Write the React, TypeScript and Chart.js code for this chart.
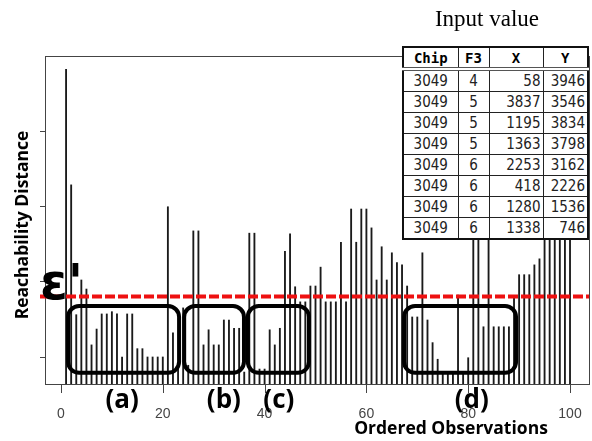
import React, { useEffect, useRef } from "react";
import { Chart, registerables } from "chart.js";
Chart.register(...registerables);

// Reachability distance of the ordered observations 1..100
const reach = [
  4.81, 3.28, 1.56, 2.02, 1.9, 1.16, 1.37, 1.57, 1.57, 1.6,
  1.57, 1.0, 1.57, 1.57, 1.11, 1.11, 1.0, 1.0, 1.0, 1.0,
  2.99, 1.32, 0.93, 1.65, 0.89, 2.67, 2.67, 1.16, 1.36, 1.16,
  1.16, 1.49, 1.49, 1.38, 1.38, 0.8, 2.64, 2.64, 0.84, 0.84,
  1.36, 1.16, 1.38, 2.4, 2.63, 1.93, 1.73, 1.73, 1.94, 1.94,
  2.19, 1.73, 1.73, 1.73, 2.52, 1.73, 2.96, 2.52, 2.96, 2.96,
  2.71, 2.02, 2.46, 2.02, 2.38, 2.25, 2.22, 1.94, 1.53, 1.53,
  2.38, 1.49, 1.19, 0.97, 0.77, 0.77, 0.77, 1.82, 0.77, 0.99,
  3.34, 3.34, 1.4, 3.08, 1.4, 1.4, 1.4, 1.4, 1.79, 2.09,
  2.09, 2.09, 2.22, 2.3, 2.81, 2.88, 2.95, 3.01, 3.08, 3.15,
];
const xTicks = [0, 20, 40, 60, 80, 100];
const yTicks = [1, 2, 3, 4];
const epsilon = 1.8;

const clusterNames = ["(a)", "(b)", "(c)", "(d)"];
const clusterStart = [1.4, 24.2, 36.7, 67.4];
const clusterEnd = [23.2, 35.95, 48.7, 89.4];
const clusterLow = 0.79;
const clusterHigh = 1.675;
const clusterLabelAt = [12, 32, 42.8, 80.7];

const tableHeader = ["Chip", "F3", "X", "Y"];
const tChip = [3049, 3049, 3049, 3049, 3049, 3049, 3049, 3049];
const tF3 = [4, 5, 5, 5, 6, 6, 6, 6];
const tX = [58, 3837, 1195, 1363, 2253, 418, 1280, 1338];
const tY = [3946, 3546, 3834, 3798, 3162, 2226, 1536, 746];

const overlay = {
  id: "overlay",
  afterDatasetsDraw(chart: any) {
    const ctx = chart.ctx;
    const a = chart.chartArea;
    const xs = chart.scales.x;
    const ys = chart.scales.y;
    ctx.save();
    // frame
    ctx.strokeStyle = "#444";
    ctx.lineWidth = 1;
    ctx.strokeRect(Math.round(a.left) + 0.5, Math.round(a.top) + 0.5, Math.round(a.right - a.left), Math.round(a.bottom - a.top));
    // ticks
    ctx.beginPath();
    xTicks.forEach((v) => {
      const px = Math.round(xs.getPixelForValue(v)) + 0.5;
      ctx.moveTo(px, a.bottom);
      ctx.lineTo(px, a.bottom + 9);
    });
    yTicks.forEach((v) => {
      const py = Math.round(ys.getPixelForValue(v)) + 0.5;
      ctx.moveTo(a.left - 5, py);
      ctx.lineTo(a.left, py);
    });
    ctx.stroke();
    ctx.fillStyle = "#444";
    ctx.font = "14px 'Liberation Sans', Arial, sans-serif";
    ctx.textAlign = "center";
    ctx.textBaseline = "middle";
    xTicks.forEach((v) => {
      ctx.fillText(String(v), xs.getPixelForValue(v), a.bottom + 30);
    });
    // cluster boxes
    ctx.strokeStyle = "#000";
    ctx.lineWidth = 4;
    for (let i = 0; i < clusterNames.length; i++) {
      const x0 = xs.getPixelForValue(clusterStart[i]);
      const x1 = xs.getPixelForValue(clusterEnd[i]);
      const y0 = ys.getPixelForValue(clusterHigh);
      const y1 = ys.getPixelForValue(clusterLow);
      const r = 11;
      ctx.beginPath();
      ctx.moveTo(x0 + r, y0);
      ctx.lineTo(x1 - r, y0);
      ctx.arcTo(x1, y0, x1, y0 + r, r);
      ctx.lineTo(x1, y1 - r);
      ctx.arcTo(x1, y1, x1 - r, y1, r);
      ctx.lineTo(x0 + r, y1);
      ctx.arcTo(x0, y1, x0, y1 - r, r);
      ctx.lineTo(x0, y0 + r);
      ctx.arcTo(x0, y0, x0 + r, y0, r);
      ctx.closePath();
      ctx.stroke();
    }
    // epsilon line
    const ey = ys.getPixelForValue(epsilon);
    ctx.strokeStyle = "#ee1111";
    ctx.lineWidth = 4;
    ctx.setLineDash([10, 3]);
    ctx.beginPath();
    ctx.moveTo(a.left - 5, ey);
    ctx.lineTo(a.right, ey);
    ctx.stroke();
    ctx.setLineDash([]);
    // epsilon label
    ctx.fillStyle = "#000";
    ctx.font = "bold 50px 'DejaVu Sans', sans-serif";
    ctx.textAlign = "left";
    ctx.textBaseline = "alphabetic";
    ctx.fillText("ε'", a.left - 5, ey + 2);
    // cluster names
    ctx.font = "bold 26px 'Open Sans', sans-serif";
    ctx.textAlign = "center";
    ctx.textBaseline = "middle";
    for (let i = 0; i < clusterNames.length; i++) {
      ctx.fillText(clusterNames[i], xs.getPixelForValue(clusterLabelAt[i]), a.bottom + 17);
    }
    // axis titles
    ctx.font = "bold 17.5px 'Open Sans', sans-serif";
    ctx.fillText("Ordered Observations", 451, 429);
    ctx.translate(23, 225);
    ctx.rotate(-Math.PI / 2);
    ctx.fillText("Reachability Distance", 0, 0);
    ctx.restore();
  },
};

export default function App() {
  const ref = useRef<HTMLCanvasElement | null>(null);
  useEffect(() => {
    if (!ref.current) return;
    const chart = new Chart(ref.current, {
      type: "bar",
      data: {
        datasets: [
          {
            data: reach.map((v, i) => ({ x: i + 1, y: v })),
            backgroundColor: "#1a1a1a",
            borderWidth: 0,
            barThickness: 1.2,
          },
        ],
      },
      options: {
        animation: false,
        responsive: false,
        events: [],
        layout: { padding: { left: 45, top: 56, right: 3, bottom: 57 } },
        scales: {
          x: { type: "linear", min: -3.14, max: 103.73, offset: false, display: false, grid: { offset: false } },
          y: { type: "linear", min: 0.642, max: 4.987, display: false },
        },
        plugins: { legend: { display: false }, tooltip: { enabled: false } },
      },
      plugins: [overlay],
    } as any);
    return () => chart.destroy();
  }, []);

  const cell: React.CSSProperties = {
    border: "1px solid #222",
    padding: "0 2px",
    height: 20,
    font: "15px 'Liberation Sans Narrow', 'DejaVu Sans Condensed', sans-serif",
    color: "#222",
    lineHeight: "18px",
  };
  const head: React.CSSProperties = {
    ...cell,
    font: "bold 14px 'DejaVu Sans Mono', monospace",
    color: "#000",
    textAlign: "center",
    borderBottom: "4px double #555",
    height: 19,
  };
  return (
    <div style={{ position: "absolute", left: 0, top: 0, width: 592, height: 441, background: "#fff" }}>
      <canvas ref={ref} width={592} height={441} style={{ position: "absolute", left: 0, top: 0, width: 592, height: 441 }} />
      <div
        style={{
          position: "absolute",
          left: 420,
          top: 6,
          width: 134,
          textAlign: "center",
          font: "23px 'Liberation Serif', 'Times New Roman', serif",
          color: "#000",
        }}
      >
        Input value
      </div>
      <table
        style={{
          position: "absolute",
          left: 402,
          top: 46,
          width: 185,
          height: 191,
          borderCollapse: "collapse",
          tableLayout: "fixed",
          background: "#fff",
          border: "2px solid #111",
        }}
      >
        <colgroup>
          <col style={{ width: 55 }} />
          <col style={{ width: 31 }} />
          <col style={{ width: 54 }} />
          <col style={{ width: 45 }} />
        </colgroup>
        <tbody>
          <tr>
            {tableHeader.map((h) => (
              <td key={h} style={head}>
                {h}
              </td>
            ))}
          </tr>
          {tChip.map((c, i) => (
            <tr key={i}>
              <td style={{ ...cell, textAlign: "center" }}>{c}</td>
              <td style={{ ...cell, textAlign: "center" }}>{tF3[i]}</td>
              <td style={{ ...cell, textAlign: "right" }}>{tX[i]}</td>
              <td style={{ ...cell, textAlign: "right" }}>{tY[i]}</td>
            </tr>
          ))}
        </tbody>
      </table>
    </div>
  );
}
